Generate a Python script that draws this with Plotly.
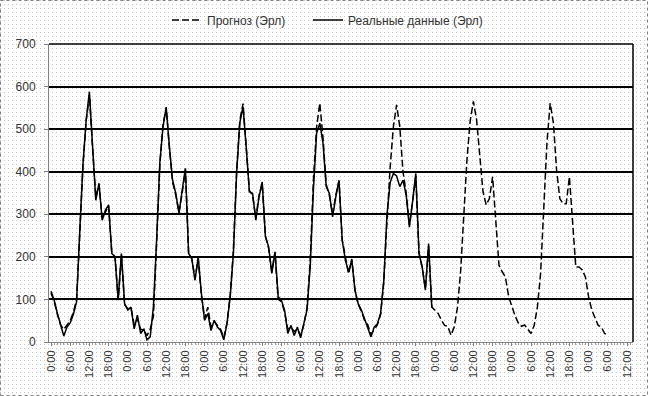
import base64
import plotly.graph_objects as go

# ---- data (hourly, Erlang) ----
real = [
    119, 98, 67, 37, 14, 35, 45, 65, 95, 263, 420, 522, 588, 459, 333, 373, 286, 310, 322, 208, 200, 98, 208, 90,
    75, 82, 31, 63, 20, 31, 5, 12, 82, 239, 420, 506, 550, 459, 380, 349, 302, 357, 408, 208, 196, 145, 200, 114,
    51, 67, 27, 51, 35, 27, 5, 43, 106, 208, 396, 514, 553, 459, 353, 349, 286, 340, 376, 247, 224, 161, 212, 106,
    98, 75, 20, 39, 15, 35, 10, 43, 75, 176, 357, 490, 514, 467, 365, 349, 294, 341, 380, 239, 192, 165, 192, 122,
    90, 75, 55, 35, 12, 35, 43, 67, 145, 300, 375, 396, 390, 365, 380, 345, 270, 330, 396, 208, 176, 122, 231, 82,
]

forecast = [
    115, 95, 65, 40, 30, 40, 50, 70, 100, 255, 415, 520, 580, 455, 340, 370, 290, 305, 320, 210, 200, 100, 205, 88,
    78, 80, 40, 55, 30, 28, 15, 30, 60, 230, 415, 510, 552, 455, 375, 345, 305, 350, 405, 210, 195, 150, 195, 110,
    55, 82, 35, 48, 40, 30, 10, 45, 110, 215, 400, 520, 560, 460, 355, 345, 290, 345, 372, 250, 220, 165, 210, 100,
    95, 70, 30, 35, 25, 30, 15, 40, 80, 190, 380, 505, 561, 480, 370, 345, 300, 345, 378, 240, 195, 160, 195, 120,
    88, 72, 50, 40, 18, 30, 40, 65, 140, 286, 412, 506, 557, 506, 400, 350, 275, 330, 390, 210, 175, 125, 225, 82,
    75, 67, 51, 39, 37, 16, 35, 80, 165, 300, 430, 520, 565, 522, 431, 353, 322, 337, 388, 280, 180, 165, 153, 107,
    82, 62, 45, 37, 40, 31, 20, 39, 82, 161, 320, 470, 561, 514, 404, 337, 325, 325, 388, 271, 176, 176, 169, 153,
    106, 75, 55, 39, 35, 20, 16,
]

tick_hours = list(range(0, 181, 6))
tick_labels = ["0:00", "6:00", "12:00", "18:00"] * 7 + ["0:00", "6:00", "12:00"]

series_names = ["Прогноз (Эрл)", "Реальные данные (Эрл)"]

# ---- figure ----
W, H = 648, 396
ML, MR, MT, MB = 49, 15, 44, 54
PW, PH = W - ML - MR, H - MT - MB

fig = go.Figure()
fig.add_trace(go.Scatter(
    x=list(range(len(forecast))), y=forecast, mode="lines", name=series_names[0],
    line=dict(color="black", width=1.5, dash="7px,3px"), legend="legend",
))
fig.add_trace(go.Scatter(
    x=list(range(len(real))), y=real, mode="lines", name=series_names[1],
    line=dict(color="black", width=1.5), legend="legend2",
))

# dotted background pattern (like Excel pattern fill)
svg = (
    f"<svg xmlns='http://www.w3.org/2000/svg' width='{W}' height='{H}'>"
    "<defs><pattern id='p' width='4' height='4' patternUnits='userSpaceOnUse'>"
    "<rect x='0' y='0' width='1' height='1' fill='#c4c4c4'/></pattern></defs>"
    f"<rect width='{W}' height='{H}' fill='url(#p)'/></svg>"
)
src = "data:image/svg+xml;base64," + base64.b64encode(svg.encode()).decode()

x_left = -0.625
x_right = x_left + PW / 3.2

legend_common = dict(orientation="h", xref="container", yref="container",
                     xanchor="left", yanchor="middle", y=1 - 20 / H,
                     bgcolor="rgba(0,0,0,0)", font=dict(size=12, color="#333333"))

fig.update_layout(
    width=W, height=H,
    margin=dict(l=ML, r=MR, t=MT, b=MB, autoexpand=False),
    paper_bgcolor="white", plot_bgcolor="rgba(0,0,0,0)",
    font=dict(family="Liberation Sans, Arial, sans-serif", size=11, color="#333333"),
    images=[dict(source=src, xref="paper", yref="paper",
                 x=-ML / PW, y=1 + MT / PH, sizex=W / PW, sizey=H / PH,
                 xanchor="left", yanchor="top", sizing="stretch", layer="below")],
    legend=dict(x=167 / W, **legend_common),
    legend2=dict(x=308 / W, **legend_common),
    showlegend=True,
    xaxis=dict(
        range=[x_left, x_right], tickmode="array", tickvals=tick_hours, ticktext=tick_labels,
        tickangle=-90, showgrid=False, zeroline=False, automargin=False,
        showline=True, linecolor="#808080", linewidth=1,
        ticks="outside", ticklen=3, tickcolor="#808080",
        minor=dict(ticks="outside", ticklen=2, tickcolor="#a0a0a0", dtick=1, showgrid=False),
        tickfont=dict(size=11, color="#333333"),
    ),
    yaxis=dict(
        range=[0, 700], dtick=100, showgrid=True, gridcolor="black", gridwidth=1.5,
        zeroline=False, showline=True, linecolor="#808080", linewidth=1, automargin=False,
        ticks="outside", ticklen=4, tickcolor="#808080", ticklabelstandoff=6,
        tickfont=dict(size=12, color="#333333"),
    ),
    shapes=[
        dict(type="line", xref="paper", yref="paper", x0=0, x1=1, y0=1, y1=1,
             line=dict(color="black", width=1.5)),
        dict(type="line", xref="paper", yref="paper", x0=1, x1=1, y0=0, y1=1,
             line=dict(color="black", width=1.5)),
        dict(type="rect", xref="paper", yref="paper",
             x0=-(ML - 0.5) / PW, x1=1 + (MR - 0.5) / PW,
             y0=-(MB - 0.5) / PH, y1=1 + (MT - 0.5) / PH,
             line=dict(color="#808080", width=1, dash="dot")),
    ],
)

fig.write_html("out.html",
               config={"displayModeBar": False},
               post_script="document.body.style.margin='0';document.body.style.padding='0';")
